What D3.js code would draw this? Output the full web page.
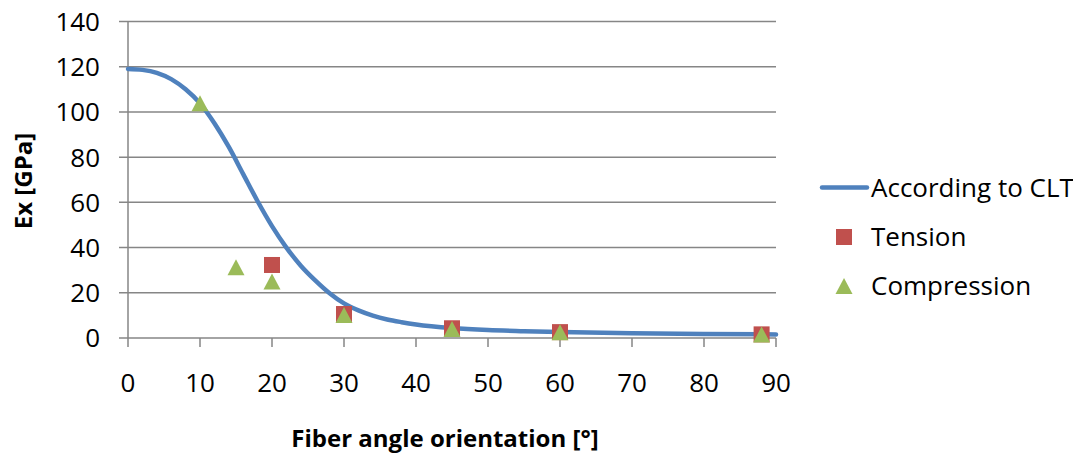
<!DOCTYPE html>
<html>
<head>
<meta charset="utf-8">
<script src="https://cdn.jsdelivr.net/npm/d3@7"></script>
<style>
  html, body { margin: 0; padding: 0; background: #fff; }
  svg { display: block; }
  text { font-family: "Open Sans", "DejaVu Sans", sans-serif; fill: #000; }
</style>
</head>
<body>
<svg id="chart" width="1073" height="455"></svg>
<script>
// Fiber angle (degrees) vs. longitudinal modulus Ex (GPa)
const xTicks = [0, 10, 20, 30, 40, 50, 60, 70, 80, 90];
const yTicks = [0, 20, 40, 60, 80, 100, 120, 140];

// Classical laminate theory prediction
const cltAngle = [0, 2, 4, 6, 8, 10, 12, 14, 16, 18, 20, 22, 24, 26, 28, 30, 32, 34, 36, 38, 40, 45, 50, 55, 60, 70, 80, 90];
const cltEx    = [119, 118.6, 117.3, 114.5, 110, 103.8, 95, 84.5, 72.5, 60.5, 49.5, 40, 32, 25.5, 19.8, 15.3, 12.2, 9.9, 8.2, 7, 6, 4.4, 3.5, 3, 2.6, 2.1, 1.8, 1.6];

// Measured values
const tensionAngle = [20, 30, 45, 60, 88];
const tensionEx    = [32.3, 10.6, 4.3, 2.6, 1.6];
const compressionAngle = [10, 15, 20, 30, 45, 60, 88];
const compressionEx    = [103.8, 31.3, 25, 10.2, 4, 2.5, 1.6];

const seriesNames = ["According to CLT", "Tension", "Compression"];
const colors = { clt: "#4F81BD", tension: "#C0504D", compression: "#9BBB59" };

const svg = d3.select("#chart");
const plot = { left: 128, right: 776, top: 21.5, bottom: 338 };

const x = d3.scaleLinear().domain([0, 90]).range([plot.left, plot.right]);
const y = d3.scaleLinear().domain([0, 140]).range([plot.bottom, plot.top]);

const gridColor = "#868686";

// horizontal gridlines (extend left as tick marks)
svg.append("g").selectAll("line").data(yTicks).join("line")
  .attr("x1", plot.left - 9).attr("x2", plot.right)
  .attr("y1", d => y(d)).attr("y2", d => y(d))
  .attr("stroke", gridColor).attr("stroke-width", 1.5);

// vertical axis line
svg.append("line")
  .attr("x1", plot.left).attr("x2", plot.left).attr("y1", plot.top).attr("y2", plot.bottom)
  .attr("stroke", gridColor).attr("stroke-width", 1.5);

// x tick marks
svg.append("g").selectAll("line").data(xTicks).join("line")
  .attr("x1", d => x(d)).attr("x2", d => x(d))
  .attr("y1", plot.bottom).attr("y2", plot.bottom + 9)
  .attr("stroke", gridColor).attr("stroke-width", 1.5);

// y tick labels
svg.append("g").selectAll("text").data(yTicks).join("text")
  .attr("x", 100).attr("y", d => y(d))
  .attr("dy", "0.36em")
  .attr("text-anchor", "end")
  .attr("font-size", 26)
  .text(d => d);

// x tick labels
svg.append("g").selectAll("text").data(xTicks).join("text")
  .attr("x", d => x(d)).attr("y", 392)
  .attr("text-anchor", "middle")
  .attr("font-size", 26)
  .text(d => d);

// axis titles
svg.append("text")
  .attr("x", 445).attr("y", 447)
  .attr("text-anchor", "middle")
  .attr("font-size", 24).attr("font-weight", "bold")
  .text("Fiber angle orientation [°]");

svg.append("text")
  .attr("transform", "translate(32,181) rotate(-90)")
  .attr("text-anchor", "middle")
  .attr("font-size", 24).attr("font-weight", "bold")
  .text("Ex [GPa]");

// CLT curve
const cltData = cltAngle.map((a, i) => [a, cltEx[i]]);
svg.append("path")
  .datum(cltData)
  .attr("fill", "none")
  .attr("stroke", colors.clt)
  .attr("stroke-width", 4.5)
  .attr("stroke-linecap", "round")
  .attr("d", d3.line().x(d => x(d[0])).y(d => y(d[1])).curve(d3.curveMonotoneX));

// markers
const sq = 16;
svg.append("g").selectAll("rect")
  .data(tensionAngle.map((a, i) => [a, tensionEx[i]]))
  .join("rect")
  .attr("x", d => x(d[0]) - sq / 2).attr("y", d => y(d[1]) - sq / 2)
  .attr("width", sq).attr("height", sq)
  .attr("fill", colors.tension);

function triangle(cx, cy, w, h) {
  return `M${cx},${cy - h / 2}L${cx + w / 2},${cy + h / 2}L${cx - w / 2},${cy + h / 2}Z`;
}
svg.append("g").selectAll("path")
  .data(compressionAngle.map((a, i) => [a, compressionEx[i]]))
  .join("path")
  .attr("d", d => triangle(x(d[0]), y(d[1]), 17, 16))
  .attr("fill", colors.compression);

// legend
const lg = svg.append("g");
lg.append("line")
  .attr("x1", 822).attr("x2", 867).attr("y1", 187.5).attr("y2", 187.5)
  .attr("stroke", colors.clt).attr("stroke-width", 4.5).attr("stroke-linecap", "round");
lg.append("rect").attr("x", 836).attr("y", 229).attr("width", 16).attr("height", 16)
  .attr("fill", colors.tension);
lg.append("path").attr("d", triangle(844, 286, 17, 16)).attr("fill", colors.compression);
const legendY = [188, 237, 286];
lg.selectAll("text").data(seriesNames).join("text")
  .attr("x", 871).attr("y", (d, i) => legendY[i])
  .attr("dy", "0.36em")
  .attr("font-size", 26)
  .text(d => d);
</script>
</body>
</html>
